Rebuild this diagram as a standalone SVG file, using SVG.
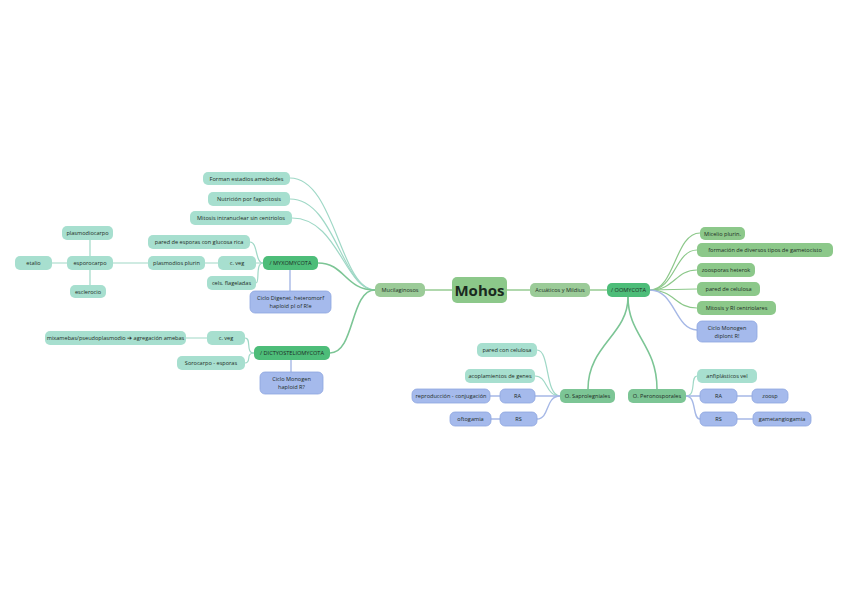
<svg xmlns="http://www.w3.org/2000/svg" width="848" height="599" viewBox="0 0 848 599">
<style>
text{font-family:"Open Sans","Liberation Sans",sans-serif;font-size:5.6px;fill:#1d2b25;text-anchor:middle;dominant-baseline:central}
.teal rect{fill:#a7dfcf}
.mg rect{fill:#9bcb98}
.og rect{fill:#8cc88a}
.bg rect{fill:#4dbd79}
.sg rect{fill:#7cc595}
.bl rect{fill:#a5baec;stroke:#8ea6e0;stroke-width:0.8}
.c path{fill:none;stroke-linecap:round}
.ct{stroke:#9fd8c6;stroke-width:1.2}
.cg{stroke:#96cc93;stroke-width:1.6}
.cb{stroke:#a6b8e6;stroke-width:1.4}
.cs{stroke:#7cc595;stroke-width:1.6}
.co{stroke:#8cc88a;stroke-width:1.2}
</style>
<rect width="848" height="599" fill="#ffffff"/>
<g id="connectors" class="c">
<path class="cg" d="M425,290 L452,290"/>
<path class="cg" d="M507,290 L530,290"/>
<path class="cg" d="M590,290 L607,290"/>
<path class="ct" d="M375,290 C340,290 335,178 290,178"/>
<path class="ct" d="M375,290 C342,290 335,199 290,199"/>
<path class="ct" d="M375,290 C345,290 338,218 292,218"/>
<path class="cs" d="M375,290 C345,290 345,263 318,263"/>
<path class="cs" d="M375,290 C350,290 355,353 330,353"/>
<path class="ct" d="M263,263 C255,263 258,242 250,242"/>
<path class="ct" d="M263,263 L256,263"/>
<path class="ct" d="M263,263 C255,263 260,283 256,283"/>
<path class="cb" d="M290,270 L290,291"/>
<path class="ct" d="M218,263 L205,263"/>
<path class="ct" d="M148,263 L113,263"/>
<path class="ct" d="M90,256 L90,240"/>
<path class="ct" d="M67,263 L52,263"/>
<path class="ct" d="M90,270 L90,285"/>
<path class="ct" d="M254,353 C245,353 252,338 245,338"/>
<path class="ct" d="M254,353 C245,353 252,363 245,363"/>
<path class="ct" d="M207,338 L186,338"/>
<path class="cb" d="M291,360 L291,372"/>
<path class="co" d="M650,290 C675,290 675,233 700,233"/>
<path class="co" d="M650,290 C675,290 675,250 697,250"/>
<path class="co" d="M650,290 C675,290 675,270 697,270"/>
<path class="co" d="M650,290 L697,289"/>
<path class="co" d="M650,290 C675,290 675,308 697,308"/>
<path class="cb" d="M650,290 C675,290 675,330 697,330"/>
<path class="cs" d="M628,297 C628,335 588,345 588,389"/>
<path class="cs" d="M628,297 C628,335 657,345 657,389"/>
<path class="ct" d="M560,396 C545,396 550,350 537,350"/>
<path class="ct" d="M560,396 C545,396 548,376 535,376"/>
<path class="cb" d="M560,396 L535,396"/>
<path class="cb" d="M560,396 C545,396 550,419 537,419"/>
<path class="cb" d="M500,396 L490,396"/>
<path class="cb" d="M500,419 L491,419"/>
<path class="ct" d="M686,396 C697,396 690,376 697,376"/>
<path class="cb" d="M686,396 L700,396"/>
<path class="cb" d="M686,396 C697,396 692,419 700,419"/>
<path class="cb" d="M737,396 L752,396"/>
<path class="cb" d="M737,419 L753,419"/>
</g>
<g id="mohos" class="og"><rect x="452" y="277" width="55" height="26" rx="5" fill="#8ec78c"/><text x="479.5" y="290" style="font-size:15px;font-weight:bold;fill:#1a2a1f">Mohos</text></g>
<g id="mucilaginosos" class="mg"><rect x="375" y="283" width="50" height="14" rx="5"/><text x="400" y="290">Mucilaginosos</text></g>
<g id="acuaticos" class="mg"><rect x="530" y="283" width="60" height="14" rx="5"/><text x="560" y="290">Acuáticos y Mildius</text></g>
<g id="oomycota" class="bg"><rect x="607" y="283" width="43" height="14" rx="5"/><text x="628.5" y="290">/ OOMYCOTA</text></g>
<g id="micelio" class="og"><rect x="700" y="227" width="45" height="13" rx="5"/><text x="722.5" y="233.5">Micelio plurin.</text></g>
<g id="formacion" class="og"><rect x="697" y="243" width="136" height="14" rx="5"/><text x="765" y="250">formación de diversos tipos de gametocisto</text></g>
<g id="zoosporas" class="og"><rect x="697" y="263" width="58" height="14" rx="5"/><text x="726" y="270">zoosporas heterok</text></g>
<g id="paredcel" class="og"><rect x="697" y="282" width="63" height="14" rx="5"/><text x="728.5" y="289">pared de celulosa</text></g>
<g id="mitosisr" class="og"><rect x="697" y="301" width="79" height="14" rx="5"/><text x="736.5" y="308">Mitosis y RI centriolares</text></g>
<g id="ciclooo" class="bl"><rect x="697" y="321" width="60" height="21" rx="5"/><text x="727" y="327.5">Ciclo Monogen</text><text x="727" y="335.5">diplont R!</text></g>
<g id="saprolegniales" class="sg"><rect x="560" y="389" width="55" height="14" rx="5"/><text x="587.5" y="396">O. Saprolegniales</text></g>
<g id="peronosporales" class="sg"><rect x="628" y="389" width="58" height="14" rx="5"/><text x="657" y="396">O. Peronosporales</text></g>
<g id="paredcon" class="teal"><rect x="477" y="343" width="60" height="14" rx="5"/><text x="507" y="350">pared con celulosa</text></g>
<g id="acoplamientos" class="teal"><rect x="465" y="369" width="70" height="14" rx="5"/><text x="500" y="376">acoplamientos de genes</text></g>
<g id="ra1" class="bl"><rect x="500" y="389" width="35" height="14" rx="5"/><text x="517.5" y="396">RA</text></g>
<g id="reproduccion" class="bl"><rect x="412" y="389" width="78" height="14" rx="5"/><text x="451" y="396">reproducción - conjugación</text></g>
<g id="rs1" class="bl"><rect x="500" y="412" width="37" height="14" rx="5"/><text x="518.5" y="419">RS</text></g>
<g id="oftogamia" class="bl"><rect x="450" y="412" width="41" height="14" rx="5"/><text x="470.5" y="419">oftogamia</text></g>
<g id="anfi" class="teal"><rect x="697" y="369" width="60" height="14" rx="5"/><text x="727" y="376">anfiplásticos vel</text></g>
<g id="ra2" class="bl"><rect x="700" y="389" width="37" height="14" rx="5"/><text x="718.5" y="396">RA</text></g>
<g id="zoosp" class="bl"><rect x="752" y="389" width="36" height="14" rx="5"/><text x="770" y="396">zoosp</text></g>
<g id="rs2" class="bl"><rect x="700" y="412" width="37" height="14" rx="5"/><text x="718.5" y="419">RS</text></g>
<g id="gametangia" class="bl"><rect x="753" y="412" width="58" height="14" rx="5"/><text x="782" y="419">gametangiogamia</text></g>
<g id="forman" class="teal"><rect x="203" y="172" width="87" height="13" rx="5"/><text x="246.5" y="178.5">Forman estadios ameboides</text></g>
<g id="nutricion" class="teal"><rect x="208" y="192" width="82" height="14" rx="5"/><text x="249" y="199">Nutrición por fagocitosis</text></g>
<g id="mitosisin" class="teal"><rect x="190" y="211" width="102" height="14" rx="5"/><text x="241" y="218">Mitosis intranuclear sin centriolos</text></g>
<g id="myxomycota" class="bg"><rect x="263" y="256" width="55" height="14" rx="5"/><text x="290.5" y="263">/ MYXOMYCOTA</text></g>
<g id="paredesporas" class="teal"><rect x="148" y="235" width="102" height="14" rx="5"/><text x="199" y="242">pared de esporas con glucosa rica</text></g>
<g id="cveg1" class="teal"><rect x="218" y="256" width="38" height="14" rx="5"/><text x="237" y="263">c. veg</text></g>
<g id="plasmodios" class="teal"><rect x="148" y="256" width="57" height="14" rx="5"/><text x="176.5" y="263">plasmodios plurin</text></g>
<g id="esporocarpo" class="teal"><rect x="67" y="256" width="46" height="14" rx="5"/><text x="90" y="263">esporocarpo</text></g>
<g id="plasmodiocarpo" class="teal"><rect x="62" y="226" width="51" height="14" rx="5"/><text x="87.5" y="233">plasmodiocarpo</text></g>
<g id="etalio" class="teal"><rect x="15" y="256" width="37" height="14" rx="5"/><text x="33.5" y="263">etalio</text></g>
<g id="esclerocio" class="teal"><rect x="70" y="285" width="36" height="13" rx="5"/><text x="88" y="291.5">esclerocio</text></g>
<g id="cels" class="teal"><rect x="207" y="276" width="49" height="14" rx="5"/><text x="231.5" y="283">cels. flageladas</text></g>
<g id="ciclomyxo" class="bl"><rect x="250" y="291" width="81" height="22" rx="5"/><text x="290.5" y="298">Ciclo Digenet. heteromorf</text><text x="290.5" y="306">haploid pl of R!e</text></g>
<g id="dictyo" class="bg"><rect x="254" y="346" width="76" height="14" rx="5"/><text x="292" y="353">/ DICTYOSTELIOMYCOTA</text></g>
<g id="cveg2" class="teal"><rect x="207" y="331" width="38" height="14" rx="5"/><text x="226" y="338">c. veg</text></g>
<g id="mixamebas" class="teal"><rect x="45" y="331" width="141" height="14" rx="5"/><text x="115.5" y="338">mixamebas/pseudoplasmodio ➔ agregación amebas</text></g>
<g id="sorocarpo" class="teal"><rect x="177" y="356" width="68" height="14" rx="5"/><text x="211" y="363">Sorocarpo - esporas</text></g>
<g id="ciclodicty" class="bl"><rect x="260" y="372" width="63" height="22" rx="5"/><text x="291.5" y="379">Ciclo Monogen</text><text x="291.5" y="387">haploid R?</text></g>
</svg>
